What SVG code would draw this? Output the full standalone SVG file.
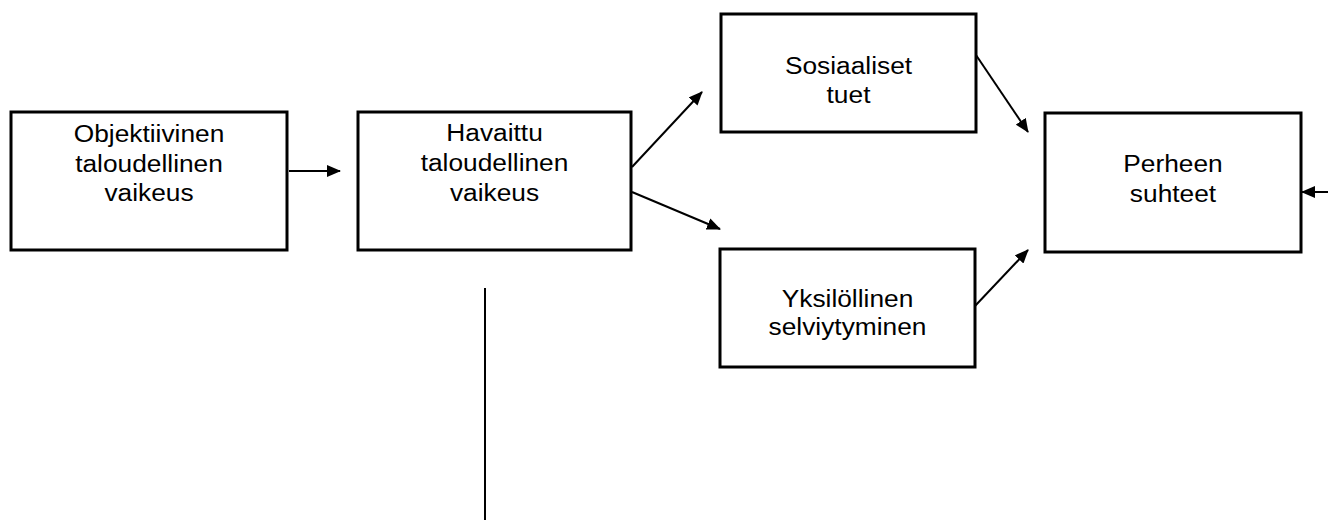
<svg xmlns="http://www.w3.org/2000/svg" width="1328" height="520" viewBox="0 0 1328 520">
  <defs>
    <style>
      .box { fill: #ffffff; stroke: #000000; stroke-width: 3; }
      .lbl { font-family: "Liberation Sans", Arial, sans-serif; font-size: 23.5px; fill: #000000; text-anchor: middle; }
      .edge { stroke: #000000; stroke-width: 2; fill: none; }
      .arr { marker-end: url(#head); }
    </style>
    <marker id="head" viewBox="0 0 14 12" refX="13" refY="6" markerWidth="14" markerHeight="12" markerUnits="userSpaceOnUse" orient="auto">
      <path d="M0,0 L14,6 L0,12 Z" fill="#000000"/>
    </marker>
  </defs>
  <rect width="1328" height="520" fill="#ffffff"/>

  <g id="objektiivinen">
    <rect class="box" x="11" y="112" width="276" height="138"/>
    <g transform="translate(149 0) scale(1.12 1)">
      <text class="lbl" x="0" y="142">Objektiivinen</text>
      <text class="lbl" x="0" y="172">taloudellinen</text>
      <text class="lbl" x="0" y="201">vaikeus</text>
    </g>
  </g>

  <g id="havaittu">
    <rect class="box" x="358" y="112" width="273" height="138"/>
    <g transform="translate(494.5 0) scale(1.12 1)">
      <text class="lbl" x="0" y="141">Havaittu</text>
      <text class="lbl" x="0" y="171">taloudellinen</text>
      <text class="lbl" x="0" y="201">vaikeus</text>
    </g>
  </g>

  <g id="sosiaaliset">
    <rect class="box" x="721" y="14" width="255" height="118"/>
    <g transform="translate(848.5 0) scale(1.12 1)">
      <text class="lbl" x="0" y="74">Sosiaaliset</text>
      <text class="lbl" x="0" y="103">tuet</text>
    </g>
  </g>

  <g id="yksilollinen">
    <rect class="box" x="720" y="249" width="255" height="118"/>
    <g transform="translate(847.5 0) scale(1.12 1)">
      <text class="lbl" x="0" y="307">Yksilöllinen</text>
      <text class="lbl" x="0" y="335">selviytyminen</text>
    </g>
  </g>

  <g id="perheen">
    <rect class="box" x="1045" y="113" width="256" height="139"/>
    <g transform="translate(1173 0) scale(1.12 1)">
      <text class="lbl" x="0" y="172">Perheen</text>
      <text class="lbl" x="0" y="202">suhteet</text>
    </g>
  </g>

  <g id="connectors">
    <line class="edge arr" x1="289" y1="171" x2="340" y2="171"/>
    <line class="edge arr" x1="632" y1="167" x2="702" y2="92"/>
    <line class="edge arr" x1="632" y1="192" x2="720" y2="229"/>
    <line class="edge arr" x1="976" y1="55" x2="1028" y2="132"/>
    <line class="edge arr" x1="975" y1="306" x2="1028" y2="250"/>
    <line class="edge arr" x1="1328" y1="192" x2="1302" y2="192"/>
    <line class="edge" x1="485" y1="288" x2="485" y2="520"/>
  </g>
</svg>
